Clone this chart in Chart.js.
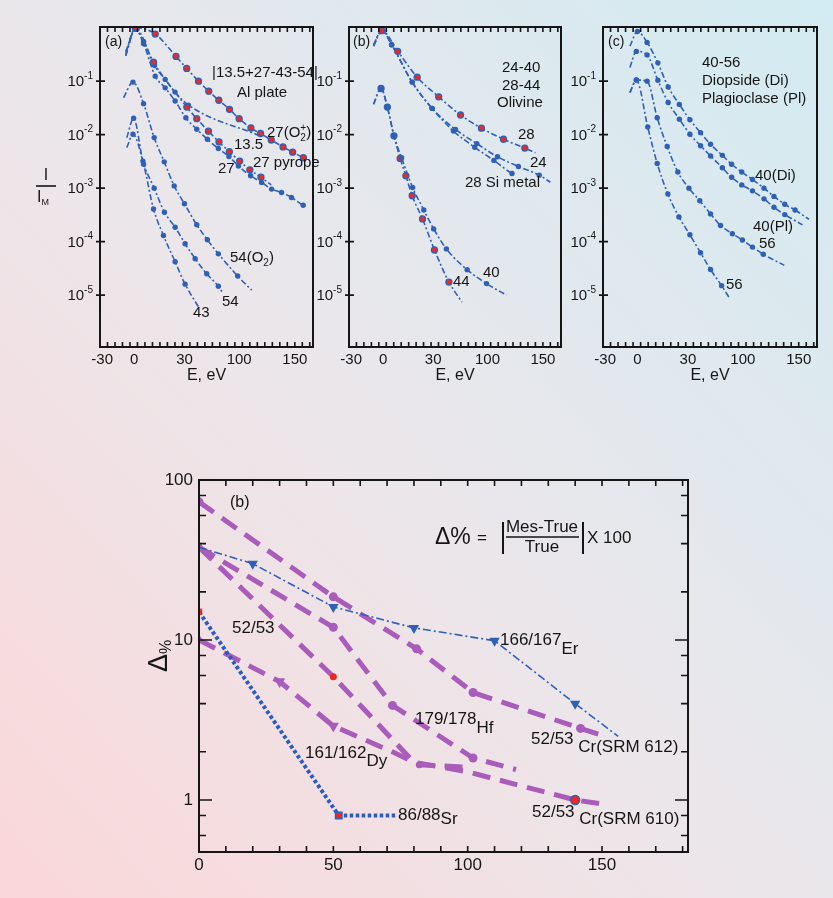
<!DOCTYPE html>
<html lang="en">
<head>
<meta charset="utf-8"/>
<title>Ion energy distributions and isotope ratio error</title>
<script src="https://cdn.jsdelivr.net/npm/chart.js"></script>
<style>
html, body { margin: 0; padding: 0; }
body {
  width: 833px; height: 898px; overflow: hidden; position: relative;
  background: linear-gradient(to top right, #fbd7d9 0%, #ece6ea 45%, #d2ebf2 100%);
}
canvas { position: absolute; left: 0; top: 0; }
</style>
</head>
<body>
<canvas id="panelA" width="833" height="898"></canvas>
<canvas id="panelB" width="833" height="898"></canvas>
<canvas id="panelC" width="833" height="898"></canvas>
<canvas id="deltaChart" width="833" height="898"></canvas>
<script>
const FONT = "'Liberation Sans', Arial, Helvetica, sans-serif";
const BLUE = '#2f60b6';
const RED = '#ec2a22';
const PURPLE = '#a95cba';
const INK = '#151515';

// energy axis of the three upper panels
const eTickVals = [-30, 0, 47, 98, 150];
const eTickText = ['-30', '0', '30', '100', '150'];
const decadeVals = [1e-1, 1e-2, 1e-3, 1e-4, 1e-5];
const decadeExp = ['-1', '-2', '-3', '-4', '-5'];

// (a) Al plate
const aO2E = [-8, 2, 19.6, 39, 49, 60, 69.6, 79, 89, 98, 109, 118, 128, 139, 148, 158, 163];
const aO2I = [0.36, 1.0, 0.76, 0.29, 0.173, 0.1, 0.065, 0.044, 0.0297, 0.0199, 0.0133, 0.0105, 0.0079, 0.0059, 0.0047, 0.0037, 0.0033];
const aPyE = [-8, 1, 18, 49.1, 58.4, 69.3, 79.2, 88.8, 98.5, 108, 118.4, 128];
const aPyI = [0.33, 0.98, 0.226, 0.0328, 0.0199, 0.0116, 0.0073, 0.0048, 0.0032, 0.0022, 0.0016, 0.00115];
const a135E = [-8, 1, 8.7, 18.9, 28.9, 38.1, 50.6, 117.4];
const a135I = [0.3, 0.95, 0.55, 0.196, 0.108, 0.0624, 0.0357, 0.0095];
const a27E = [-8, 1, 8.7, 19.6, 28.9, 38.2, 48.2, 58.4, 68.3, 78.6, 88.5, 97.3, 108.7, 119, 128.3, 137.6, 146.9, 157.8, 159];
const a27I = [0.3, 0.95, 0.5, 0.124, 0.075, 0.0425, 0.0207, 0.0126, 0.0082, 0.0055, 0.0039, 0.0026, 0.0017, 0.00128, 0.00096, 0.00083, 0.00067, 0.00048, 0.00047];
const a54O2E = [-10, -1.2, 8.7, 18.6, 28, 37.3, 46.9, 58.4, 68.3, 78.6, 96.6, 109.7];
const a54O2I = [0.049, 0.096, 0.038, 0.0088, 0.0031, 0.0011, 5.1e-4, 2.06e-4, 1.08e-4, 5.9e-5, 2.27e-5, 1.23e-5];
const a54E = [-7, -0.6, 8.1, 18.6, 28.2, 38.2, 47.5, 56.9, 67.7, 78.6, 83];
const a54I = [0.0088, 0.0202, 0.0032, 0.001, 3.55e-4, 1.86e-4, 9.1e-5, 4.8e-5, 2.5e-5, 1.46e-5, 1.07e-5];
const a43E = [-7, -1.2, 8.7, 18, 27.3, 38.2, 47.5, 60];
const a43I = [0.0057, 0.0102, 0.0028, 4.07e-4, 1.3e-4, 4.2e-5, 1.6e-5, 6e-6];

// (b) olivine
const b28E = [-9, -1.2, 13.7, 32, 52.2, 72.7, 92.3, 113, 133, 143];
const b28I = [0.48, 0.88, 0.362, 0.119, 0.051, 0.0233, 0.0132, 0.0082, 0.0056, 0.0046];
const b24E = [-9, -1.2, 8, 27.3, 46, 68, 88, 107.4, 127, 146.6, 157];
const b24I = [0.45, 0.88, 0.48, 0.096, 0.031, 0.0125, 0.0068, 0.00385, 0.00254, 0.00175, 0.00129];
const bSiE = [-9, -1.2, 8, 27.3, 46, 66, 86, 104, 121, 122];
const bSiI = [0.45, 0.88, 0.48, 0.096, 0.031, 0.0117, 0.0058, 0.0033, 0.00188, 0.00185];
const b40E = [-9, -1.9, 4, 10.2, 17.4, 27.7, 38.2, 47.5, 59.4, 78.9, 97.1, 115.8];
const b40I = [0.037, 0.073, 0.0328, 0.0095, 0.0037, 0.00103, 3.9e-4, 1.73e-4, 7.3e-5, 2.98e-5, 1.64e-5, 1.0e-5];
const b44E = [-9, -1.9, 4, 10.2, 16, 21.4, 27.3, 37, 48.2, 61.8, 74];
const b44I = [0.037, 0.073, 0.0328, 0.0095, 0.0036, 0.0017, 7.2e-4, 2.66e-4, 7.0e-5, 1.75e-5, 7.4e-6];

// (c) diopside / plagioclase
const cDiE = [-7, 0, 9, 19, 28.6, 39, 48.8, 58.7, 68, 79, 87.6, 97, 107, 117.7, 127, 137, 146.6, 159.6];
const cDiI = [0.45, 0.85, 0.53, 0.22, 0.078, 0.0368, 0.019, 0.0109, 0.0066, 0.0041, 0.0028, 0.002, 0.00145, 0.001, 7.0e-4, 5.0e-4, 3.9e-4, 2.6e-4];
const cPlE = [-7, -1, 9, 19, 28.6, 39, 48.8, 58.7, 68, 79, 87.6, 97, 107, 117.7, 127, 137, 153.5];
const cPlI = [0.18, 0.36, 0.31, 0.104, 0.04, 0.0195, 0.0102, 0.0062, 0.004, 0.0024, 0.0016, 0.00115, 8.9e-4, 6.3e-4, 4.4e-4, 3.2e-4, 2.06e-4];
const c56aE = [-7, -1, 9, 18.4, 27.7, 37.6, 47.9, 58, 68, 77.3, 88.3, 97.6, 107, 117, 136.6];
const c56aI = [0.061, 0.105, 0.1, 0.0207, 0.006, 0.002, 0.001, 5.8e-4, 3.3e-4, 2.0e-4, 1.4e-4, 1.07e-4, 7.9e-5, 5.8e-5, 3.6e-5];
const c56bE = [-7, -1, 9.6, 18.4, 28.3, 38.6, 48.8, 58.7, 68, 78.3, 85];
const c56bI = [0.061, 0.105, 0.0139, 0.0029, 7.8e-4, 2.9e-4, 1.34e-4, 6.2e-5, 3.0e-5, 1.5e-5, 9.2e-6];

// lower chart: relative error vs. energy
const dTickVals = [0, 50, 100, 150];
const dTickText = ['0', '50', '100', '150'];
const pctTicks = [0.6, 0.8, 1, 2, 4, 6, 8, 10, 20, 40, 60, 80, 100];
const pctMajor = [1, 10, 100];
const pctMajorText = ['1', '10', '100'];

const cr612X = [0, 50, 81, 102, 142, 151];
const cr612Y = [73, 18.6, 8.8, 4.7, 2.8, 2.5];
const hfX = [0, 50, 72, 102, 118];
const hfY = [38, 12, 3.9, 1.83, 1.55];
const cr610X = [0, 50, 80, 100, 140, 151];
const cr610Y = [38, 5.9, 1.72, 1.5, 1.0, 0.94];
const dyX = [0, 30, 50, 72, 82, 100];
const dyY = [10, 5.5, 2.9, 2.0, 1.66, 1.6];
const erX = [0, 20, 50, 80, 110, 140, 156];
const erY = [38, 30, 16.1, 11.9, 9.9, 4.0, 2.5];
const srX = [0, 52, 73];
const srY = [15, 0.8, 0.8];

const pts = (xs, ys) => xs.map((x, i) => ({ x, y: ys[i] }));

// lay out a run of text pieces: [text, size, dy, stackOnPrevious]
function layoutRich(ctx, parts) {
  let cx = 0, prevStart = 0, prevW = 0;
  const pos = [];
  parts.forEach(p => {
    ctx.font = p[1] + 'px ' + FONT;
    const w = ctx.measureText(p[0]).width;
    if (p[3]) {
      pos.push(prevStart);
      cx = prevStart + Math.max(prevW, w);
      prevW = Math.max(prevW, w);
    } else {
      pos.push(cx);
      prevStart = cx; prevW = w; cx += w;
    }
  });
  return { pos, width: cx };
}

function drawRich(ctx, parts, x, y, align) {
  const lay = layoutRich(ctx, parts);
  const x0 = align === 'right' ? x - lay.width : align === 'center' ? x - lay.width / 2 : x;
  ctx.textAlign = 'left';
  ctx.textBaseline = 'middle';
  parts.forEach((p, i) => {
    ctx.font = p[1] + 'px ' + FONT;
    ctx.fillText(p[0], x0 + lay.pos[i], y + (p[2] || 0));
  });
}

// boxed frame with inward ticks, labels and free text
function framePlugin(cfg) {
  return {
    id: 'frame',
    afterDatasetsDraw(chart) {
      const { ctx, chartArea: a, scales: { x, y } } = chart;
      ctx.save();
      ctx.strokeStyle = INK;
      ctx.fillStyle = INK;
      ctx.lineWidth = 2;
      ctx.strokeRect(a.left, a.top, a.right - a.left, a.bottom - a.top);

      ctx.lineWidth = 1.6;
      ctx.beginPath();
      cfg.xTicks.forEach(v => {
        const px = x.getPixelForValue(v);
        ctx.moveTo(px, a.bottom); ctx.lineTo(px, a.bottom - cfg.xTickLen);
        ctx.moveTo(px, a.top); ctx.lineTo(px, a.top + cfg.xTickLen);
      });
      cfg.yTicks.forEach(v => {
        const py = y.getPixelForValue(v);
        const len = cfg.yMajor.includes(v) ? cfg.yMajorLen : cfg.yMinorLen;
        ctx.moveTo(a.left - cfg.yOut, py); ctx.lineTo(a.left + len, py);
        if (cfg.rightTicks) { ctx.moveTo(a.right, py); ctx.lineTo(a.right - len, py); }
      });
      ctx.stroke();

      ctx.font = cfg.tickSize + 'px ' + FONT;
      ctx.textAlign = 'center';
      ctx.textBaseline = 'middle';
      cfg.xLabelVals.forEach((v, i) => {
        ctx.fillText(cfg.xLabelText[i], x.getPixelForValue(v), a.bottom + cfg.xLabelGap);
      });
      cfg.yLabelVals.forEach((v, i) => {
        drawRich(ctx, cfg.yLabelParts[i], a.left - cfg.yLabelGap, y.getPixelForValue(v), 'right');
      });
      if (cfg.xTitle) {
        ctx.font = cfg.xTitle.size + 'px ' + FONT;
        ctx.textAlign = 'center';
        ctx.fillText(cfg.xTitle.text, (a.left + a.right) / 2, a.bottom + cfg.xTitle.gap);
      }

      (cfg.texts || []).forEach(t => drawRich(ctx, t.parts, t.x, t.y, t.align || 'left'));

      (cfg.rules || []).forEach(r => {
        ctx.lineWidth = r[4];
        ctx.beginPath(); ctx.moveTo(r[0], r[1]); ctx.lineTo(r[2], r[3]); ctx.stroke();
      });

      if (cfg.rotated) {
        const r = cfg.rotated;
        ctx.translate(r.x, r.y);
        ctx.rotate(-Math.PI / 2);
        ctx.textAlign = 'left';
        ctx.textBaseline = 'alphabetic';
        let cx = 0;
        r.parts.forEach(p => {
          ctx.font = p[1] + 'px ' + FONT;
          ctx.fillText(p[0], cx, p[2]);
          cx += ctx.measureText(p[0]).width;
        });
      }
      ctx.restore();
    }
  };
}

// one dash-dot spectrum with dots on the measured energies
function curve(xs, ys, redCore) {
  const last = xs.length - 1;
  return {
    data: pts(xs, ys),
    borderColor: BLUE,
    borderWidth: 1.6,
    borderDash: [6, 2.5, 2, 2.5],
    cubicInterpolationMode: 'monotone',
    pointRadius: c => (c.dataIndex === 0 || c.dataIndex === last) ? 0 : (redCore ? 3 : 2.7),
    pointBackgroundColor: redCore ? RED : BLUE,
    pointBorderColor: BLUE,
    pointBorderWidth: redCore ? 1.3 : 0,
    fill: false
  };
}

const eMinor = [];
for (let v = -25; v <= 165; v += 7) eMinor.push(v);

function spectrumPanel(id, pad, datasets, extra) {
  const cfg = Object.assign({
    xTicks: eMinor, xTickLen: 5,
    yTicks: decadeVals, yMajor: decadeVals, yMajorLen: 5, yMinorLen: 5, yOut: 4,
    tickSize: 15, xLabelVals: eTickVals, xLabelText: eTickText, xLabelGap: 13,
    yLabelVals: decadeVals,
    yLabelParts: decadeExp.map(e => [['10', 15, 1], [e, 10, -5]]),
    yLabelGap: 7,
    xTitle: { text: 'E, eV', size: 16, gap: 29 }
  }, extra);
  return new Chart(document.getElementById(id), {
    type: 'line',
    data: { datasets },
    options: {
      responsive: false,
      animation: false,
      events: [],
      layout: { padding: pad },
      plugins: { legend: { display: false }, tooltip: { enabled: false } },
      scales: {
        x: { type: 'linear', min: -32, max: 167, display: false },
        y: { type: 'logarithmic', min: 1.07e-6, max: 1.03, display: false }
      }
    },
    plugins: [framePlugin(cfg)]
  });
}

spectrumPanel('panelA', { left: 100, top: 27, right: 520, bottom: 551 }, [
  curve(aO2E, aO2I, true),
  curve(aPyE, aPyI, true),
  curve(a135E, a135I, false),
  curve(a27E, a27I, false),
  curve(a54O2E, a54O2I, false),
  curve(a54E, a54I, false),
  curve(a43E, a43I, false)
], {
  texts: [
    { x: 105, y: 42, parts: [['(a)', 14, 0]] },
    { x: 212, y: 73, parts: [['|13.5+27-43-54|', 15, 0]] },
    { x: 237, y: 93, parts: [['Al plate', 15, 0]] },
    { x: 267, y: 133, parts: [['27(O', 15, 0], ['2', 10, 5], ['+', 10, -5, true], [')', 15, 0]] },
    { x: 234, y: 145, parts: [['13.5', 15, 0]] },
    { x: 253, y: 163, parts: [['27 pyrope', 15, 0]] },
    { x: 218, y: 169, parts: [['27', 15, 0]] },
    { x: 230, y: 258, parts: [['54(O', 15, 0], ['2', 10, 5], [')', 15, 0]] },
    { x: 222, y: 302, parts: [['54', 15, 0]] },
    { x: 193, y: 313, parts: [['43', 15, 0]] },
    { x: 46, y: 176, align: 'center', parts: [['I', 16, 0]] },
    { x: 43, y: 198, align: 'center', parts: [['I', 16, 0], ['M', 9, 5]] }
  ],
  rules: [[36, 186, 56, 186, 1.6]]
});

spectrumPanel('panelB', { left: 349, top: 27, right: 272, bottom: 551 }, [
  curve(b28E, b28I, true),
  curve(b24E, b24I, false),
  curve(bSiE, bSiI, false),
  curve(b40E, b40I, false),
  curve(b44E, b44I, true)
], {
  texts: [
    { x: 353, y: 42, parts: [['(b)', 14, 0]] },
    { x: 502, y: 68, parts: [['24-40', 15, 0]] },
    { x: 502, y: 86, parts: [['28-44', 15, 0]] },
    { x: 497, y: 103, parts: [['Olivine', 15, 0]] },
    { x: 518, y: 135, parts: [['28', 15, 0]] },
    { x: 530, y: 163, parts: [['24', 15, 0]] },
    { x: 465, y: 183, parts: [['28 Si metal', 15, 0]] },
    { x: 483, y: 273, parts: [['40', 15, 0]] },
    { x: 453, y: 282, parts: [['44', 15, 0]] }
  ]
});

spectrumPanel('panelC', { left: 603, top: 27, right: 16, bottom: 551 }, [
  curve(cDiE, cDiI, false),
  curve(cPlE, cPlI, false),
  curve(c56aE, c56aI, false),
  curve(c56bE, c56bI, false)
], {
  texts: [
    { x: 608, y: 42, parts: [['(c)', 14, 0]] },
    { x: 702, y: 63, parts: [['40-56', 15, 0]] },
    { x: 702, y: 81, parts: [['Diopside (Di)', 15, 0]] },
    { x: 702, y: 99, parts: [['Plagioclase (Pl)', 15, 0]] },
    { x: 755, y: 176, parts: [['40(Di)', 15, 0]] },
    { x: 753, y: 227, parts: [['40(Pl)', 15, 0]] },
    { x: 759, y: 244, parts: [['56', 15, 0]] },
    { x: 726, y: 285, parts: [['56', 15, 0]] }
  ]
});

// ---- lower chart ----
const dMinor = [];
for (let v = 0; v <= 180; v += 10) dMinor.push(v);

function purple(xs, ys, marker) {
  const last = xs.length - 1;
  return {
    data: pts(xs, ys),
    order: 3,
    borderColor: PURPLE,
    borderWidth: 5,
    borderDash: [18, 10],
    borderCapStyle: 'butt',
    tension: 0,
    pointStyle: c => marker(c.dataIndex).style || 'circle',
    rotation: c => marker(c.dataIndex).rot || 0,
    pointRadius: c => c.dataIndex === last ? 0 : (marker(c.dataIndex).r ?? 4.5),
    pointBackgroundColor: c => marker(c.dataIndex).fill || PURPLE,
    pointBorderColor: c => marker(c.dataIndex).edge || PURPLE,
    pointBorderWidth: c => marker(c.dataIndex).bw ?? 0
  };
}

new Chart(document.getElementById('deltaChart'), {
  type: 'line',
  data: {
    datasets: [
      purple(cr612X, cr612Y, i => ({ r: 4.5 })),
      purple(hfX, hfY, i => ({ r: i === 0 ? 0 : 4.5 })),
      purple(cr610X, cr610Y, i => i === 0 ? { style: 'triangle', r: 7 }
        : i === 1 ? { r: 3.5, fill: RED }
        : i === 4 ? { r: 4.5, fill: RED, edge: BLUE, bw: 1.5 }
        : { r: 0 }),
      purple(dyX, dyY, i => i === 0 ? { style: 'triangle', r: 6 }
        : i <= 2 ? { style: 'triangle', r: 6.5, rot: 180 }
        : i === 4 ? { r: 3.5 } : { r: 0 }),
      {
        data: pts(erX, erY),
        order: 2,
        borderColor: BLUE,
        borderWidth: 1.6,
        borderDash: [8, 3, 2, 3],
        tension: 0,
        pointStyle: 'triangle',
        rotation: 180,
        pointRadius: c => (c.dataIndex === 0 || c.dataIndex === erX.length - 1) ? 0 : 6,
        pointBackgroundColor: BLUE,
        pointBorderWidth: 0
      },
      {
        data: pts(srX, srY),
        order: 1,
        borderColor: '#2a5cc2',
        borderWidth: 4,
        borderDash: [3.5, 2.5],
        borderCapStyle: 'butt',
        tension: 0,
        pointStyle: 'rect',
        pointRadius: c => c.dataIndex === srX.length - 1 ? 0 : 4.5,
        pointBackgroundColor: RED,
        pointBorderColor: c => c.dataIndex === 1 ? BLUE : RED,
        pointBorderWidth: c => c.dataIndex === 1 ? 1.5 : 0
      }
    ]
  },
  options: {
    responsive: false,
    animation: false,
    events: [],
    layout: { padding: { left: 199, top: 480, right: 145, bottom: 46 } },
    plugins: { legend: { display: false }, tooltip: { enabled: false } },
    scales: {
      x: { type: 'linear', min: 0, max: 182, display: false },
      y: { type: 'logarithmic', min: 0.473, max: 100, display: false }
    }
  },
  plugins: [framePlugin({
    xTicks: dMinor, xTickLen: 6,
    yTicks: pctTicks, yMajor: pctMajor, yMajorLen: 13, yMinorLen: 7, yOut: 0, rightTicks: true,
    tickSize: 17, xLabelVals: dTickVals, xLabelText: dTickText, xLabelGap: 13,
    yLabelVals: pctMajor,
    yLabelParts: pctMajorText.map(t => [[t, 17, 0]]),
    yLabelGap: 6,
    texts: [
      { x: 230, y: 503, parts: [['(b)', 16, 0]] },
      { x: 435, y: 538, parts: [['\u0394%', 23, 0]] },
      { x: 477, y: 538, parts: [['=', 17, 0]] },
      { x: 542, y: 527, align: 'center', parts: [['Mes-True', 17, 0]] },
      { x: 542, y: 547, align: 'center', parts: [['True', 17, 0]] },
      { x: 587, y: 538, parts: [['X 100', 17, 0]] },
      { x: 232, y: 628, parts: [['52/53', 17, 0]] },
      { x: 500, y: 640, parts: [['166/167', 17, 0], ['Er', 17, 9]] },
      { x: 415, y: 719, parts: [['179/178', 17, 0], ['Hf', 17, 9]] },
      { x: 305, y: 753, parts: [['161/162', 17, 0], ['Dy', 17, 8]] },
      { x: 531, y: 739, parts: [['52/53', 17, 0], [' Cr(SRM 612)', 17, 8]] },
      { x: 398, y: 815, parts: [['86/88', 17, 0], ['Sr', 17, 4]] },
      { x: 532, y: 812, parts: [['52/53', 17, 0], [' Cr(SRM 610)', 17, 7]] }
    ],
    rules: [
      [503, 522, 503, 554, 2],
      [583, 522, 583, 554, 2],
      [506, 537, 579, 537, 1.6]
    ],
    rotated: { x: 167, y: 672, parts: [['\u0394', 27, 0], ['%', 16, 4]] }
  })]
});
</script>
</body>
</html>
